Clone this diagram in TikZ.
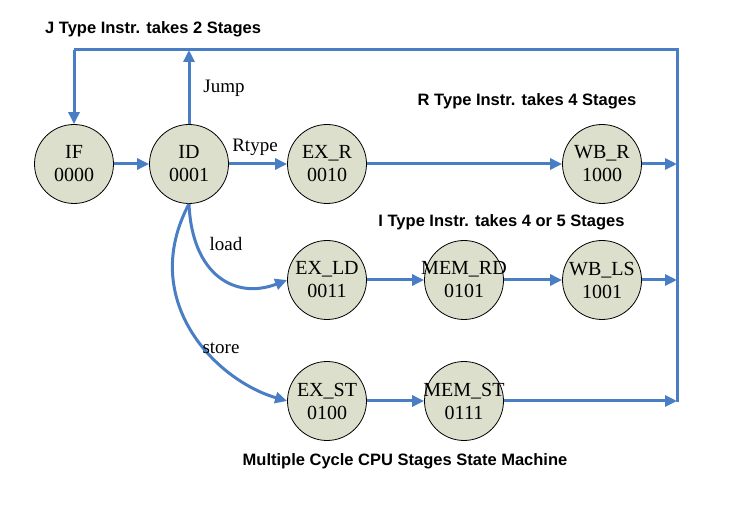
\documentclass[tikz,border=0pt]{standalone}
\usepackage{fontspec}
\setmainfont{Liberation Serif}
\newfontfamily\titlefont{Liberation Sans}
\usetikzlibrary{arrows.meta}
\definecolor{flowblue}{HTML}{4A7EC4}
\definecolor{statefill}{HTML}{DCDFCB}
\newcommand{\statetext}[2]{\makebox[46pt]{#1}\\\makebox[46pt]{#2}}
\begin{document}
\begin{tikzpicture}[x=1pt,y=-1pt,
  state/.style={circle,draw=black,line width=0.8pt,fill=statefill,minimum size=79pt,inner sep=0pt,align=center,font=\fontsize{20}{23}\selectfont},
  flow/.style={draw=flowblue,line width=3pt,-{Triangle[length=12pt,width=11pt]}},
  flowline/.style={draw=flowblue,line width=3pt},
  lbl/.style={font=\fontsize{19}{22}\selectfont,inner sep=0pt},
  ttl/.style={font=\titlefont\bfseries\fontsize{16.5}{19}\selectfont,inner sep=0pt}]
\useasboundingbox (0,0) rectangle (748,505);
\node[state] (IF) at (74,164) {\statetext{IF}{0000}};
\node[state] (ID) at (189,164) {\statetext{ID}{0001}};
\node[state] (EXR) at (327,164) {\statetext{EX\_R}{0010}};
\node[state] (WBR) at (602,164) {\statetext{WB\_R}{1000}};
\node[state] (EXLD) at (327,280) {\statetext{EX\_LD}{0011}};
\node[state] (MEMRD) at (464,280) {\statetext{MEM\_RD}{0101}};
\node[state] (WBLS) at (602,280) {\statetext{WB\_LS}{1001}};
\node[state] (EXST) at (327,401) {\statetext{EX\_ST}{0100}};
\node[state] (MEMST) at (464,401) {\statetext{MEM\_ST}{0111}};
\coordinate (bus top) at (677,50);
\coordinate (bus bottom) at (677,402.5);
\coordinate (jtop) at (189,50);
\coordinate (ltop) at (74,50);
\coordinate (rR) at (677,164);
\coordinate (rLS) at (677,280);
\coordinate (rST) at (677,401);
\path[flowline] (bus bottom) -- (bus top) -- (ltop);
\path[flow] (ltop) -- (IF.north);
\path[flow] (ID.north) -- (jtop);
\path[flow] (IF) -- (ID);
\path[flow] (ID) -- (EXR);
\path[flow] (EXR) -- (WBR);
\path[flow] (WBR) -- (rR);
\path[flow] (EXLD) -- (MEMRD);
\path[flow] (MEMRD) -- (WBLS);
\path[flow] (WBLS) -- (rLS);
\path[flow] (EXST) -- (MEMST);
\path[flow] (MEMST) -- (rST);
\path[flow] (ID.south) .. controls (192,275) and (235,300) .. (EXLD.west);
\path[flow] (ID.south) .. controls (138,300) and (215,380) .. (EXST.west);
\node[lbl] (jump) at (224,88) {Jump};
\node[lbl] (rtype) at (255,147) {Rtype};
\node[lbl] (load) at (226,244) {load};
\node[lbl] (store) at (221,348) {store};
\node[ttl,anchor=west] (tJ) at (45,29) {J Type Instr. takes 2 Stages};
\node[ttl] (tR) at (527,101) {R Type Instr. takes 4 Stages};
\node[ttl] (tI) at (501.5,222) {I Type Instr. takes 4 or 5 Stages};
\node[ttl] (tM) at (405,461) {Multiple Cycle CPU Stages State Machine};
\end{tikzpicture}
\end{document}
